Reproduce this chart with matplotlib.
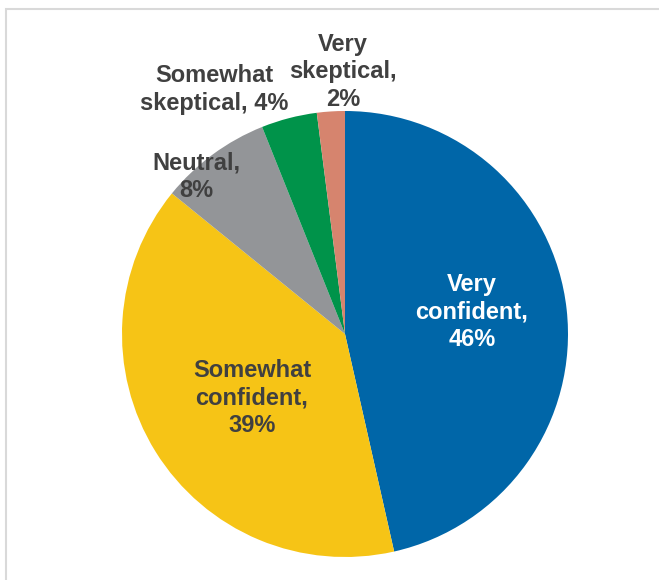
import numpy as np
import matplotlib
matplotlib.use("Agg")
import matplotlib.pyplot as plt
from matplotlib.patches import Rectangle

# data
categories = ["Very confident", "Somewhat confident", "Neutral", "Somewhat skeptical", "Very skeptical"]
shares = [46, 39, 8, 4, 2]
label_text = ["Very\nconfident,\n46%", "Somewhat\nconfident,\n39%", "Neutral,\n8%",
              "Somewhat\nskeptical, 4%", "Very\nskeptical,\n2%"]

# style
slice_colors = ["#0066A8", "#F6C416", "#939598", "#00934A", "#D6846E"]
text_colors = ["white", "#404040", "#404040", "#404040", "#404040"]
label_r = [0.578, 0.506, 0.971, 1.242, 1.175]
label_da = [3.5, 2.7, 7.1, 13.6, -3.2]

plt.rcParams['font.family'] = ['Liberation Sans', 'DejaVu Sans']

fig = plt.figure(figsize=(6.59, 5.80), dpi=100)
fig.patch.set_facecolor("white")
ax = fig.add_axes([122 / 659, 23 / 580, 446 / 659, 446 / 580])

wedges, _ = ax.pie(shares, colors=slice_colors, startangle=90, counterclock=False,
                   radius=1, wedgeprops=dict(linewidth=0))
ax.set_xlim(-1, 1)
ax.set_ylim(-1, 1)
ax.set_aspect("auto")
ax.axis("off")

for w, txt, tc, r, da in zip(wedges, label_text, text_colors, label_r, label_da):
    ang = np.deg2rad((w.theta1 + w.theta2) / 2 + da)
    ax.text(r * np.cos(ang), r * np.sin(ang), txt, ha="center", va="center",
            fontsize=17, fontweight="bold", color=tc, linespacing=1.27, clip_on=False)

# chart frame (cropped on the right and bottom)
fig.patches.append(Rectangle((5.5 / 659, -0.1), 1.2, 1 - 8.5 / 580 + 0.1,
                             transform=fig.transFigure, fill=False,
                             edgecolor="#D9D9D9", linewidth=1.5))

fig.savefig("out.png", dpi=100)
